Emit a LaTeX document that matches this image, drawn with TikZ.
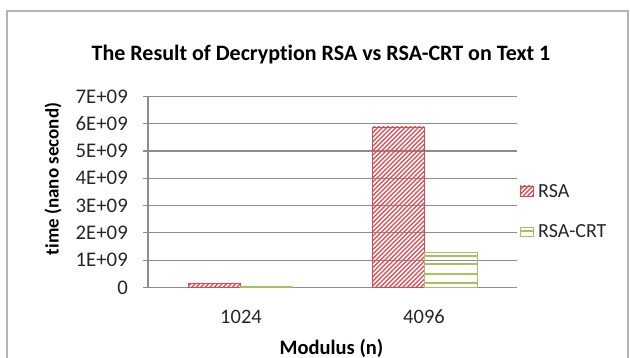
\documentclass[tikz,border=0pt]{standalone}
\usepackage{fontspec}
\setmainfont[Ligatures=NoCommon]{Carlito}
\definecolor{gridgray}{HTML}{8C8C8C}
\definecolor{framegray}{HTML}{B4B4B4}
\definecolor{rsared}{HTML}{E0474C}
\definecolor{crtgreen}{HTML}{A8C060}
\tikzset{
  gridline/.style={draw=gridgray, line width=1.1pt},
  ticklabel/.style={anchor=east, inner sep=0pt, font=\fontsize{20.8}{20.8}\selectfont, text=black!85},
  catlabel/.style={anchor=center, inner sep=0pt, font=\fontsize{20.5}{20.5}\selectfont, text=black!85},
  axtitle/.style={anchor=center, inner sep=0pt, font=\bfseries\fontsize{20.5}{20.5}\selectfont},
  legtext/.style={anchor=west, inner sep=0pt, font=\fontsize{20}{20}\selectfont, text=black!85},
  redhatch/.style={draw=rsared, line width=1.2pt},
  greenstripe/.style={draw=crtgreen, line width=2pt},
}
\begin{document}
\begin{tikzpicture}[x=1pt,y=-1pt]
\useasboundingbox (0,0) rectangle (630,358);
% frame
\draw[framegray, line width=1.5pt] (7,360) -- (7,11) -- (628,11) -- (628,360);
% title
\node[anchor=center, inner sep=0pt, font=\bfseries\fontsize{22}{22}\selectfont] (title) at (321,55) {The Result of Decryption RSA vs RSA-CRT on Text 1};
% gridlines and tick labels
\foreach \v/\lab in {0/0,1/1E+09,2/2E+09,3/3E+09,4/4E+09,5/5E+09,6/6E+09,7/7E+09}{
  \draw[gridline] (143,{287.5-27.3*\v}) -- (517,{287.5-27.3*\v});
  \node[ticklabel] (t\v) at (128,{287.5-27.3*\v}) {\lab};
}
\draw[gridline] (148,96.4) -- (148,287.5);
% bars: 1024
\begin{scope}
  \clip (188,283.8) rectangle (240,287.5);
  \foreach \x in {-20,-15.5,...,260}{\draw[redhatch] (\x,287.5) -- ++(10,-10);}
\end{scope}
\draw[rsared, line width=0.8pt] (188,287.5) rectangle (240,283.8);
\draw[crtgreen, line width=0.8pt] (240,287.5) rectangle (292,286.8);
% bars: 4096 RSA
\begin{scope}
  \clip (372,127) rectangle (424,287.5);
  \foreach \x in {200,204.5,...,430}{\draw[redhatch] (\x,287.5) -- ++(170,-170);}
\end{scope}
\draw[rsared, line width=0.8pt] (372,287.5) rectangle (424,127);
% bars: 4096 RSA-CRT
\foreach \y in {256,264.5,274,283.3}{\draw[greenstripe] (424,\y) -- (477,\y);}
\draw[crtgreen, line width=1pt] (424,287.5) rectangle (477,253);
% category labels
\node[catlabel] (c1) at (241,317) {1024};
\node[catlabel] (c2) at (424,317) {4096};
% axis titles
\node[axtitle] (xt) at (331.5,348) {Modulus (n)};
\node[axtitle, rotate=90, font=\bfseries\fontsize{19}{19}\selectfont] (yt) at (53,179) {time (nano second)};
% legend
\begin{scope}
  \clip (520,186) rectangle (533,196);
  \foreach \x in {505,509.5,...,535}{\draw[redhatch] (\x,196) -- ++(12,-12);}
\end{scope}
\draw[rsared, line width=0.6pt] (520,186) rectangle (533,196);
\node[legtext] (l1) at (538,191) {RSA};
\draw[crtgreen, line width=0.8pt] (520,227) rectangle (533,236);
\draw[greenstripe] (520,231.5) -- (533,231.5);
\node[legtext] (l2) at (538,231) {RSA-CRT};
\end{tikzpicture}
\end{document}
